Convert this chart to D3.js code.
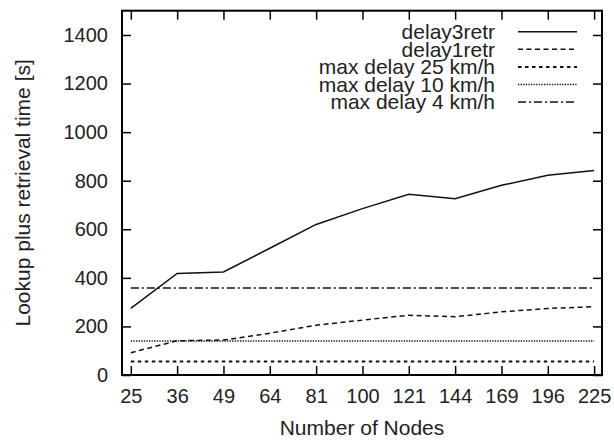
<!DOCTYPE html>
<html>
<head>
<meta charset="utf-8">
<script src="https://cdn.jsdelivr.net/npm/d3@7"></script>
<style>
  body { margin: 0; background: #fff; }
  svg { display: block; font-family: "Liberation Sans", Arial, sans-serif; }
</style>
</head>
<body>
<div id="chart"></div>
<script>
// data
const nodes = [25, 36, 49, 64, 81, 100, 121, 144, 169, 196, 225];
const delay3retr = [274, 418, 424, 522, 620, 685, 744, 726, 781, 822, 842];
const delay1retr = [92, 141, 144, 172, 205, 226, 246, 240, 260, 274, 281];
const maxDelay25 = 56;
const maxDelay10 = 140;
const maxDelay4 = 358;
const yTicks = [0, 200, 400, 600, 800, 1000, 1200, 1400];

const series = [
    { name: "delay3retr", values: delay3retr, dash: null, width: 1.5 },
    { name: "delay1retr", values: delay1retr, dash: "5,3.5", width: 1.5 },
    { name: "max delay 25 km/h", values: nodes.map(() => maxDelay25), dash: "3.5,3.5", width: 2 },
    { name: "max delay 10 km/h", values: nodes.map(() => maxDelay10), dash: "1.3,1.3", width: 1.5 },
    { name: "max delay 4 km/h", values: nodes.map(() => maxDelay4), dash: "8,3,2,3", width: 1.5 }
];

const width = 614, height = 443;
const margin = { top: 10.7, right: 12, bottom: 68, left: 122 };
const innerWidth = width - margin.left - margin.right;
const innerHeight = height - margin.top - margin.bottom;

const svg = d3.select("#chart").append("svg")
    .attr("width", width)
    .attr("height", height);

const g = svg.append("g")
    .attr("transform", `translate(${margin.left}, ${margin.top})`);

// scales - categories are evenly spaced, so use the index
const x = d3.scaleLinear().domain([-0.19, 10.17]).range([0, innerWidth]);
const y = d3.scaleLinear().domain([0, 1500]).range([innerHeight, 0]);

const tickLen = 9;
const fontSize = 20;

// axes (gnuplot style: inner ticks, mirrored)
const xAxis = d3.axisBottom(x)
    .tickValues(d3.range(nodes.length))
    .tickFormat(i => nodes[i])
    .tickSizeInner(-tickLen).tickSizeOuter(0).tickPadding(14);
const xg = g.append("g")
    .attr("transform", `translate(0, ${innerHeight})`)
    .call(xAxis);

const yAxis = d3.axisLeft(y)
    .tickValues(yTicks)
    .tickFormat(d3.format("d"))
    .tickSizeInner(-tickLen).tickSizeOuter(0).tickPadding(14);
const yg = g.append("g").call(yAxis);

const topAxis = g.append("g")
    .call(d3.axisTop(x).tickValues(d3.range(nodes.length)).tickFormat("")
        .tickSizeInner(-tickLen).tickSizeOuter(0));
const rightAxis = g.append("g")
    .attr("transform", `translate(${innerWidth}, 0)`)
    .call(d3.axisRight(y).tickValues(yTicks).tickFormat("")
        .tickSizeInner(-tickLen).tickSizeOuter(0));

[xg, yg, topAxis, rightAxis].forEach(a => {
    a.select(".domain").remove();
    a.attr("font-family", null).attr("font-size", null);
    a.selectAll(".tick line").attr("stroke", "#000").attr("stroke-width", 1.5);
    a.selectAll("text")
        .attr("fill", "#222")
        .style("font-size", `${fontSize}px`);
});

// border
g.append("rect")
    .attr("width", innerWidth)
    .attr("height", innerHeight)
    .attr("fill", "none")
    .attr("stroke", "#000")
    .attr("stroke-width", 2);

// lines
const line = d3.line()
    .x((d, i) => x(i))
    .y(d => y(d));

g.selectAll("path.series")
    .data(series)
    .join("path")
    .attr("class", "series")
    .attr("d", d => line(d.values))
    .attr("fill", "none")
    .attr("stroke", "#111")
    .attr("stroke-width", d => d.width)
    .attr("stroke-dasharray", d => d.dash);

// legend
const legendRight = 495 - margin.left;
const legend = g.selectAll("g.legend")
    .data(series)
    .join("g")
    .attr("class", "legend")
    .attr("transform", (d, i) => `translate(0, ${21 + i * 17.6})`);

legend.append("text")
    .attr("x", legendRight)
    .attr("y", 0)
    .attr("dy", "0.35em")
    .attr("text-anchor", "end")
    .attr("fill", "#222")
    .style("font-size", "21px")
    .text(d => d.name);

legend.append("line")
    .attr("x1", 518 - margin.left)
    .attr("x2", 577 - margin.left)
    .attr("stroke", "#111")
    .attr("stroke-width", d => d.width)
    .attr("stroke-dasharray", d => d.dash);

// axis titles
svg.append("text")
    .attr("x", margin.left + innerWidth / 2)
    .attr("y", 435)
    .attr("text-anchor", "middle")
    .attr("fill", "#222")
    .style("font-size", "21px")
    .text("Number of Nodes");

svg.append("text")
    .attr("transform", `translate(29.5, ${margin.top + innerHeight / 2}) rotate(-90)`)
    .attr("text-anchor", "middle")
    .attr("fill", "#222")
    .style("font-size", "21px")
    .text("Lookup plus retrieval time [s]");
</script>
</body>
</html>
